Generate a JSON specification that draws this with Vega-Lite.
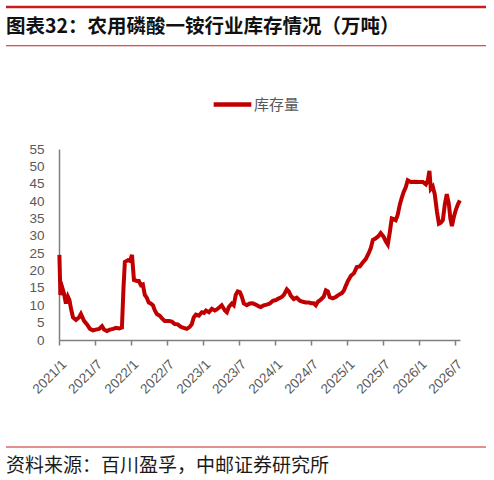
{
  "$schema": "https://vega.github.io/schema/vega-lite/v6.json",
  "padding": {"left": 4, "top": 5, "right": 7, "bottom": 0},
  "spacing": 20,
  "background": "white",
  "config": {"view": {"stroke": null}, "font": "Liberation Sans"},
  "resolve": {"scale": {"color": "independent"}, "legend": {"color": "independent"}},
  "datasets": {
    "inv": [
      {"d":"2021-01-03","v":24.5},{"d":"2021-01-08","v":13},{"d":"2021-01-18","v":15},{"d":"2021-01-26","v":13.5},
      {"d":"2021-02-05","v":10.5},{"d":"2021-02-15","v":12.5},{"d":"2021-02-23","v":11.5},{"d":"2021-03-03","v":9},
      {"d":"2021-03-13","v":6.5},{"d":"2021-03-28","v":5.8},{"d":"2021-04-12","v":6.5},{"d":"2021-04-22","v":7.5},
      {"d":"2021-05-08","v":5.5},{"d":"2021-05-23","v":4.5},{"d":"2021-06-07","v":3.2},{"d":"2021-06-22","v":2.8},
      {"d":"2021-07-07","v":3.0},{"d":"2021-07-23","v":3.2},{"d":"2021-08-07","v":4.0},{"d":"2021-08-17","v":3.0},
      {"d":"2021-09-01","v":2.6},{"d":"2021-09-16","v":3.0},{"d":"2021-10-02","v":3.2},{"d":"2021-10-17","v":3.5},
      {"d":"2021-11-01","v":3.3},{"d":"2021-11-16","v":3.6},{"d":"2021-11-24","v":15},{"d":"2021-12-01","v":22.5},
      {"d":"2021-12-17","v":23},{"d":"2021-12-27","v":22.8},{"d":"2022-01-06","v":24.5},{"d":"2022-01-16","v":17.3},
      {"d":"2022-01-31","v":17.0},{"d":"2022-02-10","v":17.0},{"d":"2022-02-20","v":15.8},{"d":"2022-03-02","v":16.0},
      {"d":"2022-03-12","v":13},{"d":"2022-03-22","v":12.2},{"d":"2022-04-01","v":10.8},{"d":"2022-04-11","v":10.5},
      {"d":"2022-04-22","v":10},{"d":"2022-05-02","v":8.5},{"d":"2022-05-12","v":7.5},{"d":"2022-05-27","v":7.0},
      {"d":"2022-06-06","v":6.3},{"d":"2022-06-21","v":5.5},{"d":"2022-07-12","v":5.5},{"d":"2022-07-27","v":5.3},
      {"d":"2022-08-11","v":4.6},{"d":"2022-08-26","v":4.5},{"d":"2022-09-10","v":3.8},{"d":"2022-09-25","v":3.5},
      {"d":"2022-10-11","v":3.2},{"d":"2022-10-26","v":3.8},{"d":"2022-11-05","v":4.5},{"d":"2022-11-15","v":6.5},
      {"d":"2022-11-26","v":7.3},{"d":"2022-12-11","v":7.0},{"d":"2022-12-26","v":8.0},{"d":"2023-01-06","v":7.8},
      {"d":"2023-01-16","v":8.5},{"d":"2023-01-31","v":8.0},{"d":"2023-02-15","v":9.0},{"d":"2023-03-02","v":8.5},
      {"d":"2023-03-12","v":8.8},{"d":"2023-03-27","v":9.5},{"d":"2023-04-06","v":10.0},{"d":"2023-04-22","v":8.5},
      {"d":"2023-05-02","v":8.0},{"d":"2023-05-12","v":9.5},{"d":"2023-05-27","v":10.5},{"d":"2023-06-06","v":10},
      {"d":"2023-06-16","v":13},{"d":"2023-06-26","v":14},{"d":"2023-07-07","v":13.8},{"d":"2023-07-17","v":12.5},
      {"d":"2023-07-27","v":10.5},{"d":"2023-08-11","v":10},{"d":"2023-08-26","v":10.5},{"d":"2023-09-10","v":10.6},
      {"d":"2023-09-25","v":10.2},{"d":"2023-10-11","v":9.7},{"d":"2023-10-21","v":9.5},{"d":"2023-11-05","v":10},
      {"d":"2023-11-20","v":10.2},{"d":"2023-12-06","v":10.5},{"d":"2023-12-21","v":11.3},{"d":"2024-01-06","v":11.5},
      {"d":"2024-01-21","v":12.0},{"d":"2024-02-05","v":12.4},{"d":"2024-02-15","v":13.0},{"d":"2024-03-01","v":14.6},
      {"d":"2024-03-11","v":14.0},{"d":"2024-03-21","v":12.8},{"d":"2024-04-05","v":11.8},{"d":"2024-04-20","v":12.2},
      {"d":"2024-05-06","v":11.3},{"d":"2024-05-21","v":11},{"d":"2024-06-05","v":10.8},{"d":"2024-06-20","v":10.8},
      {"d":"2024-07-05","v":10.6},{"d":"2024-07-15","v":10.6},{"d":"2024-07-26","v":10},{"d":"2024-08-05","v":11},
      {"d":"2024-08-20","v":11.6},{"d":"2024-09-04","v":12.5},{"d":"2024-09-15","v":14.3},{"d":"2024-09-25","v":14.0},
      {"d":"2024-10-05","v":12.3},{"d":"2024-10-20","v":12},{"d":"2024-11-04","v":12.4},{"d":"2024-11-19","v":13},
      {"d":"2024-12-05","v":13.5},{"d":"2024-12-15","v":14.2},{"d":"2024-12-25","v":15.6},{"d":"2025-01-05","v":17},
      {"d":"2025-01-20","v":18.5},{"d":"2025-02-04","v":19.2},{"d":"2025-02-19","v":21},{"d":"2025-03-06","v":21.2},
      {"d":"2025-03-21","v":22.3},{"d":"2025-04-05","v":23.3},{"d":"2025-04-20","v":25},{"d":"2025-05-01","v":26.5},
      {"d":"2025-05-11","v":28.8},{"d":"2025-05-26","v":29.3},{"d":"2025-06-10","v":30},{"d":"2025-06-20","v":30.8},
      {"d":"2025-07-05","v":29.7},{"d":"2025-07-15","v":28.5},{"d":"2025-07-26","v":27.5},{"d":"2025-08-05","v":31},
      {"d":"2025-08-15","v":35},{"d":"2025-08-25","v":34.8},{"d":"2025-09-04","v":34.5},{"d":"2025-09-14","v":36},
      {"d":"2025-09-25","v":39},{"d":"2025-10-05","v":41},{"d":"2025-10-15","v":42.7},{"d":"2025-10-25","v":44},
      {"d":"2025-11-04","v":46},{"d":"2025-11-19","v":45.5},{"d":"2025-12-09","v":45.6},{"d":"2025-12-30","v":45.5},
      {"d":"2026-01-20","v":45.5},{"d":"2026-02-04","v":44.8},{"d":"2026-02-14","v":46},{"d":"2026-02-22","v":48.7},
      {"d":"2026-03-01","v":43.5},{"d":"2026-03-11","v":44.2},{"d":"2026-03-21","v":42},{"d":"2026-04-01","v":37},
      {"d":"2026-04-11","v":33.5},{"d":"2026-04-21","v":33.8},{"d":"2026-05-01","v":34.5},{"d":"2026-05-11","v":39},
      {"d":"2026-05-21","v":42},{"d":"2026-06-01","v":39},{"d":"2026-06-08","v":35},{"d":"2026-06-16","v":32.8},
      {"d":"2026-06-26","v":35.5},{"d":"2026-07-06","v":37.5},{"d":"2026-07-16","v":39},{"d":"2026-07-26","v":40.2}
    ],
    "header": [{"t":"图表32：农用磷酸一铵行业库存情况（万吨）"}],
    "footer": [{"t":"资料来源：百川盈孚，中邮证券研究所"}]
  },
  "vconcat": [
    {
      "width": 427,
      "height": 56,
      "data": {"name": "header"},
      "layer": [
        {
          "mark": {"type": "rule", "color": "#C81E1E", "strokeWidth": 2.5},
          "encoding": {
            "x": {"datum": -0.1241, "type": "quantitative", "scale": {"domain": [0, 1]}, "axis": null},
            "x2": {"datum": 1},
            "y": {"datum": 1, "type": "quantitative", "scale": {"domain": [-0.445, 1]}, "axis": null}
          }
        },
        {
          "mark": {"type": "rule", "color": "#C81E1E", "strokeWidth": 1},
          "encoding": {
            "x": {"datum": -0.1241, "type": "quantitative", "scale": {"domain": [0, 1]}, "axis": null},
            "x2": {"datum": 1},
            "y": {"datum": 0, "type": "quantitative", "scale": {"domain": [-0.445, 1]}, "axis": null}
          }
        },
        {
          "mark": {"type": "text", "align": "left", "baseline": "middle", "font": "Noto Sans CJK SC", "fontWeight": "bold", "fontSize": 19.5, "color": "#111111"},
          "encoding": {
            "x": {"datum": -0.1241, "type": "quantitative", "scale": {"domain": [0, 1]}, "axis": null},
            "y": {"datum": 0.49, "type": "quantitative", "scale": {"domain": [-0.445, 1]}, "axis": null},
            "text": {"field": "t"}
          }
        }
      ]
    },
    {
      "width": 401,
      "height": 191,
      "data": {"name": "inv"},
      "mark": {"type": "line", "strokeWidth": 4, "interpolate": "linear"},
      "encoding": {
        "x": {
          "field": "d", "type": "temporal", "title": null,
          "scale": {"domain": [{"year": 2021, "month": 1, "date": 1}, {"year": 2026, "month": 7, "date": 27}]},
          "axis": {
            "values": [
              {"year": 2021, "month": 1, "date": 1}, {"year": 2021, "month": 7, "date": 1},
              {"year": 2022, "month": 1, "date": 1}, {"year": 2022, "month": 7, "date": 1},
              {"year": 2023, "month": 1, "date": 1}, {"year": 2023, "month": 7, "date": 1},
              {"year": 2024, "month": 1, "date": 1}, {"year": 2024, "month": 7, "date": 1},
              {"year": 2025, "month": 1, "date": 1}, {"year": 2025, "month": 7, "date": 1},
              {"year": 2026, "month": 1, "date": 1}, {"year": 2026, "month": 7, "date": 1}
            ],
            "format": "%Y/%-m", "labelAngle": -45, "grid": false, "tickSize": 5,
            "domainColor": "#7f7f7f", "tickColor": "#7f7f7f", "domainWidth": 1.5, "tickWidth": 1.5,
            "labelColor": "#595959", "labelFontSize": 13.5, "labelPadding": 12, "labelFlush": false, "labelOverlap": false
          }
        },
        "y": {
          "field": "v", "type": "quantitative", "title": null,
          "scale": {"domain": [0, 55], "nice": false},
          "axis": {
            "values": [0,5,10,15,20,25,30,35,40,45,50,55],
            "grid": false, "ticks": false, "labelPadding": 15, "minExtent": 53,
            "domainColor": "#7f7f7f", "domainWidth": 1.5,
            "labelColor": "#595959", "labelFontSize": 13.5
          }
        },
        "color": {
          "datum": "库存量",
          "scale": {"range": ["#C00000"]},
          "legend": {
            "title": null, "orient": "none", "legendX": 152, "legendY": -66,
            "symbolType": "stroke", "symbolSize": 1420, "symbolStrokeWidth": 4.5,
            "labelFont": "Noto Sans CJK SC", "labelFontSize": 15, "labelColor": "#595959", "labelOffset": 0
          }
        }
      }
    },
    {
      "width": 427,
      "height": 50,
      "data": {"name": "footer"},
      "layer": [
        {
          "mark": {"type": "rule", "color": "#C81E1E", "strokeWidth": 1},
          "encoding": {
            "x": {"datum": -0.1241, "type": "quantitative", "scale": {"domain": [0, 1]}, "axis": null},
            "x2": {"datum": 1},
            "y": {"datum": 0.38, "type": "quantitative", "scale": {"domain": [0, 1]}, "axis": null}
          }
        },
        {
          "mark": {"type": "text", "align": "left", "baseline": "middle", "font": "Noto Sans CJK SC", "fontSize": 19, "color": "#1a1a1a"},
          "encoding": {
            "x": {"datum": -0.1241, "type": "quantitative", "scale": {"domain": [0, 1]}, "axis": null},
            "y": {"datum": 0.0, "type": "quantitative", "scale": {"domain": [0, 1]}, "axis": null},
            "text": {"field": "t"}
          }
        }
      ]
    }
  ]
}
